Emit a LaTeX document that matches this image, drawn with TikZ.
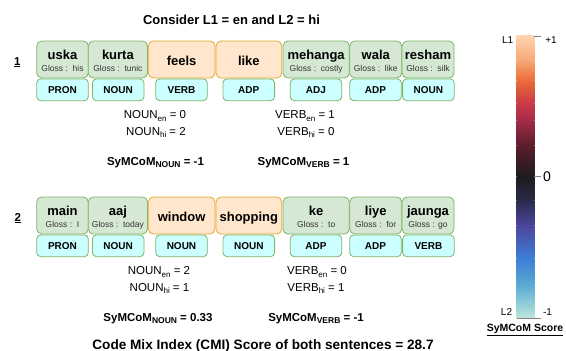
\documentclass[tikz,border=0pt]{standalone}
\usepackage{fontspec}
\setmainfont{Liberation Sans}

\definecolor{greenfill}{HTML}{D5E8D4}
\definecolor{greenline}{HTML}{82B366}
\definecolor{orangefill}{HTML}{FFE6CC}
\definecolor{orangeline}{HTML}{E3A92F}
\definecolor{posfill}{HTML}{CCFFFF}
\definecolor{glossgray}{HTML}{333333}
\definecolor{ca}{HTML}{FFD5B2}
\definecolor{cb}{HTML}{F7A878}
\definecolor{cc}{HTML}{EA6E38}
\definecolor{cd}{HTML}{CC3A48}
\definecolor{ce}{HTML}{A42C48}
\definecolor{cf}{HTML}{5C1E2C}
\definecolor{cg}{HTML}{1D1B1D}
\definecolor{ch}{HTML}{2A2A48}
\definecolor{ci}{HTML}{4B459A}
\definecolor{cj}{HTML}{3D7DD6}
\definecolor{ck}{HTML}{5AAAD2}
\definecolor{cl}{HTML}{BDE6DC}

\newcommand{\fsz}[1]{\fontsize{#1}{#1}\selectfont}
\newcommand{\lsub}[1]{\raisebox{-2.6pt}{\fsz{8}#1}}
\newcommand{\bsub}[1]{\raisebox{-2.4pt}{\fsz{8.5}\bfseries #1}}

\begin{document}
\begin{tikzpicture}[x=1pt,y=-1pt,
   wordg/.style={draw=greenline,fill=greenfill,rounded corners=5pt,line width=0.8pt,minimum height=37pt,inner sep=0pt},
   wordo/.style={draw=orangeline,fill=orangefill,rounded corners=5pt,line width=0.8pt,minimum height=37pt,inner sep=0pt},
   posbox/.style={draw=greenline,fill=posfill,rounded corners=4pt,line width=0.8pt,minimum height=21.7pt,minimum width=51.6pt,inner sep=0pt,font=\fsz{10}\bfseries},
   word/.style={anchor=base,inner sep=0pt,font=\fsz{13}\bfseries},
   gloss/.style={anchor=base,inner sep=0pt,font=\fsz{8.5},text=glossgray},
   stat/.style={anchor=base,inner sep=0pt,font=\fsz{11.5}},
   score/.style={anchor=base,inner sep=0pt,font=\fsz{11.5}\bfseries},
   rownum/.style={anchor=base,inner sep=0pt,font=\fsz{11.5}\bfseries},
   barlabel/.style={anchor=base,inner sep=0pt,font=\fsz{10}}]
   \useasboundingbox[fill=white] (0,0) rectangle (566,351);

   \node[anchor=base,inner sep=0pt,font=\fsz{13}\bfseries] (title) at (231.5,24.3) {Consider L1 = en and L2 = hi};

   % first sentence
   \node[rownum] (rowA) at (17.2,65) {\underline{1}};
   \node[wordg,minimum width=51.6pt] (uska) at (62.5,59.5) {};
   \node[word] (uskaW) at (62.5,59.8) {uska};
   \node[gloss] (uskaG) at (62.5,71.6) {Gloss :\ \ his};
   \node[wordg,minimum width=59.2pt] (kurta) at (117.9,59.5) {};
   \node[word] (kurtaW) at (117.9,59.8) {kurta};
   \node[gloss] (kurtaG) at (117.9,71.6) {Gloss :\ \ tunic};
   \node[wordo,minimum width=66.7pt] (feels) at (181.65,59.5) {};
   \node[word] (feelsW) at (181.65,65.5) {feels};
   \node[wordo,minimum width=65.7pt] (like) at (248.85,59.5) {};
   \node[word] (likeW) at (248.85,65.5) {like};
   \node[wordg,minimum width=66.3pt] (mehanga) at (316.15,59.5) {};
   \node[word] (mehangaW) at (316.15,59.8) {mehanga};
   \node[gloss] (mehangaG) at (316.15,71.6) {Gloss :\ \ costly};
   \node[wordg,minimum width=51.9pt] (wala) at (375.75,59.5) {};
   \node[word] (walaW) at (375.75,59.8) {wala};
   \node[gloss] (walaG) at (375.75,71.6) {Gloss :\ \ like};
   \node[wordg,minimum width=52pt] (resham) at (428,59.5) {};
   \node[word] (reshamW) at (428,59.8) {resham};
   \node[gloss] (reshamG) at (428,71.6) {Gloss :\ \ silk};

   \node[posbox] (uskaP) at (62.5,89.8) {PRON};
   \node[posbox] (kurtaP) at (118.2,89.8) {NOUN};
   \node[posbox] (feelsP) at (181.5,89.8) {VERB};
   \node[posbox] (likeP) at (248.8,89.8) {ADP};
   \node[posbox] (mehangaP) at (316,89.8) {ADJ};
   \node[posbox] (walaP) at (375.5,89.8) {ADP};
   \node[posbox] (reshamP) at (428.4,89.8) {NOUN};

   \node[stat] (nounEnA) at (155,118.8) {NOUN\lsub{en} = 0};
   \node[stat] (nounHiA) at (156,135.2) {NOUN\lsub{hi} = 2};
   \node[stat] (verbEnA) at (305,118.8) {VERB\lsub{en} = 1};
   \node[stat] (verbHiA) at (306,135.2) {VERB\lsub{hi} = 0};
   \node[score] (nounScA) at (155.5,165.2) {SyMCoM\bsub{NOUN} = -1};
   \node[score] (verbScA) at (303.5,165.2) {SyMCoM\bsub{VERB} = 1};

   % second sentence
   \begin{scope}[shift={(0,156)}]
   \node[rownum] (rowB) at (17.8,65) {\underline{2}};
   \node[wordg,minimum width=51.6pt] (main) at (62.5,59.5) {};
   \node[word] (mainW) at (62.5,59.8) {main};
   \node[gloss] (mainG) at (62.5,71.6) {Gloss :\ \ I};
   \node[wordg,minimum width=59.2pt] (aaj) at (117.9,59.5) {};
   \node[word] (aajW) at (117.9,59.8) {aaj};
   \node[gloss] (aajG) at (117.9,71.6) {Gloss :\ \ today};
   \node[wordo,minimum width=66.7pt] (window) at (181.65,59.5) {};
   \node[word] (windowW) at (181.65,65.5) {window};
   \node[wordo,minimum width=65.7pt] (shopping) at (248.85,59.5) {};
   \node[word] (shoppingW) at (248.85,65.5) {shopping};
   \node[wordg,minimum width=66.3pt] (ke) at (316.15,59.5) {};
   \node[word] (keW) at (316.15,59.8) {ke};
   \node[gloss] (keG) at (316.15,71.6) {Gloss :\ \ to};
   \node[wordg,minimum width=51.9pt] (liye) at (375.75,59.5) {};
   \node[word] (liyeW) at (375.75,59.8) {liye};
   \node[gloss] (liyeG) at (375.75,71.6) {Gloss :\ \ for};
   \node[wordg,minimum width=52pt] (jaunga) at (428,59.5) {};
   \node[word] (jaungaW) at (428,59.8) {jaunga};
   \node[gloss] (jaungaG) at (428,71.6) {Gloss : go};

   \node[posbox] (mainP) at (62.5,89.8) {PRON};
   \node[posbox] (aajP) at (118.2,89.8) {NOUN};
   \node[posbox] (windowP) at (181.5,89.8) {NOUN};
   \node[posbox] (shoppingP) at (248.8,89.8) {NOUN};
   \node[posbox] (keP) at (316,89.8) {ADP};
   \node[posbox] (liyeP) at (375.5,89.8) {ADP};
   \node[posbox] (jaungaP) at (428.4,89.8) {VERB};

   \node[stat] (nounEnB) at (159,118.8) {NOUN\lsub{en} = 2};
   \node[stat] (nounHiB) at (159.5,135.2) {NOUN\lsub{hi} = 1};
   \node[stat] (verbEnB) at (317,118.8) {VERB\lsub{en} = 0};
   \node[stat] (verbHiB) at (316,135.2) {VERB\lsub{hi} = 1};
   \node[score] (nounScB) at (158,165.2) {SyMCoM\bsub{NOUN} = 0.33};
   \node[score] (verbScB) at (316,165.2) {SyMCoM\bsub{VERB} = -1};
   \end{scope}

   \node[anchor=base,inner sep=0pt,font=\fsz{13.6}\bfseries] (cmi) at (263,349.5) {Code Mix Index (CMI) Score of both sentences = 28.7};

   % colour bar
   \shade[top color=ca,bottom color=cb] (516.7,35) rectangle (534.3,60);
   \shade[top color=cb,bottom color=cc] (516.7,60) rectangle (534.3,80);
   \shade[top color=cc,bottom color=cd] (516.7,80) rectangle (534.3,103);
   \shade[top color=cd,bottom color=ce] (516.7,103) rectangle (534.3,120);
   \shade[top color=ce,bottom color=cf] (516.7,120) rectangle (534.3,145);
   \shade[top color=cf,bottom color=cg] (516.7,145) rectangle (534.3,176.5);
   \shade[top color=cg,bottom color=ch] (516.7,176.5) rectangle (534.3,200);
   \shade[top color=ch,bottom color=ci] (516.7,200) rectangle (534.3,225);
   \shade[top color=ci,bottom color=cj] (516.7,225) rectangle (534.3,258);
   \shade[top color=cj,bottom color=ck] (516.7,258) rectangle (534.3,285);
   \shade[top color=ck,bottom color=cl] (516.7,285) rectangle (534.3,318);
   \draw[gray,line width=0.8pt] (534.3,36) -- (541,36);
   \draw[gray,line width=0.8pt] (534.3,176.5) -- (540.5,176.5);
   \draw[gray,line width=0.8pt] (516.7,318) -- (541,318);

   \node[barlabel] (lOne) at (507.7,43.3) {L1};
   \node[barlabel] (pOne) at (551,43.3) {+1};
   \node[anchor=base,inner sep=0pt,font=\fsz{14}] (zero) at (547,181.7) {0};
   \node[barlabel] (lTwo) at (506.5,315) {L2};
   \node[barlabel] (mOne) at (547.5,315) {-1};
   \node[anchor=base,inner sep=0pt,font=\fsz{10.5}\bfseries] (barname) at (525,331.7) {\underline{SyMCoM Score}};
\end{tikzpicture}
\end{document}
